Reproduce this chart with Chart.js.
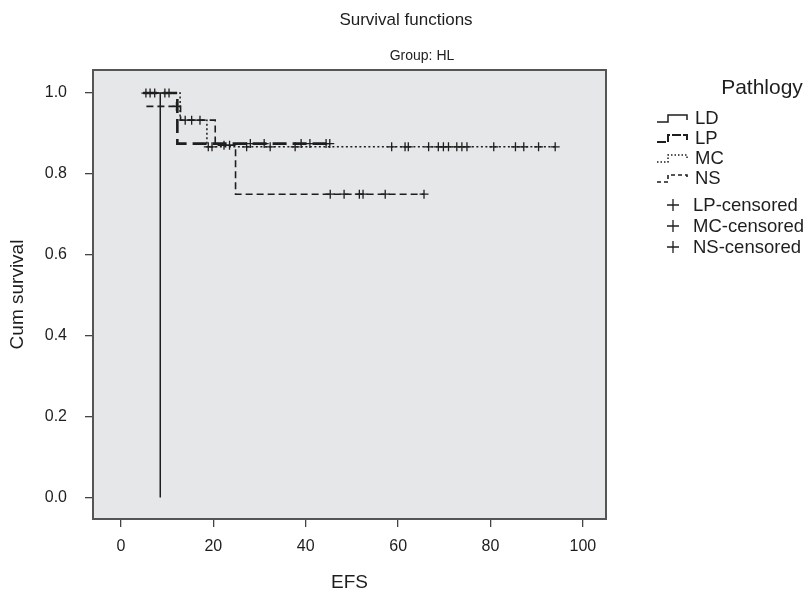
<!DOCTYPE html>
<html>
<head>
<meta charset="utf-8">
<script src="https://cdn.jsdelivr.net/npm/chart.js@4.4.1/dist/chart.umd.min.js"></script>
<style>
  html,body{margin:0;padding:0;background:#fff}
  #wrap{width:812px;height:592px;position:relative}
</style>
</head>
<body>
<div id="wrap"><canvas id="km"></canvas></div>
<script>
// tick labels
const xTicks = [0, 20, 40, 60, 80, 100];
const yTicks = [0.0, 0.2, 0.4, 0.6, 0.8, 1.0];

// Kaplan-Meier steps per pathology (time, survival after that time)
const ldTime = [4.8, 8.5];
const ldSurv = [1.0, 0.0];
const lpTime = [4.8, 12.2, 45.6];
const lpSurv = [1.0, 0.875, 0.875];
const mcTime = [4.8, 12.8, 18.6, 94.0];
const mcSurv = [1.0, 0.933, 0.867, 0.867];
const nsTime = [5.5, 12.9, 20.4, 24.8, 65.6];
const nsSurv = [0.967, 0.933, 0.871, 0.75, 0.75];

// censored times
const lpCens = [5.4, 6.3, 7.3, 9.5, 10.4, 28.0, 31.0, 39.0, 40.9, 44.4, 45.2];
const mcCens = [18.9, 19.7, 27.2, 32.3, 37.7, 58.6, 61.5, 62.2, 66.6, 68.7, 69.8, 70.9, 72.7, 73.8, 74.9, 80.7, 85.4, 87.2, 90.4, 94.0];
const nsCens = [12.0, 13.9, 15.3, 17.1, 22.3, 23.5, 45.3, 48.3, 51.6, 52.4, 57.2, 65.6];

const FONT = '"Liberation Sans", Arial, sans-serif';
const INK = '#1e1e1e';

function steps(t, s){ return t.map((v,i)=>({x:v, y:s[i]})); }
function survAt(t, s, x){
  let v = s[0];
  for(let i=0;i<t.length;i++){ if(t[i] <= x) v = s[i]; }
  return v;
}
function cens(c, t, s){ return c.map(x=>({x:x, y:survAt(t, s, x)})); }

function curve(label, t, s, dash, width, legDash){
  return { type:'line', label:label, data:steps(t,s), stepped:true, borderColor:INK,
    borderWidth:width, borderDash:dash, legendDash:legDash, pointRadius:0, fill:false, tension:0 };
}
function marks(label, c, t, s){
  return { type:'scatter', label:label, data:cens(c,t,s), pointStyle:'cross', pointRadius:4.5,
    borderColor:INK, borderWidth:1.3, showLine:false };
}

const datasets = [
  curve('LD', ldTime, ldSurv, [], 1.5, []),
  curve('LP', lpTime, lpSurv, [14,6], 2.6, [9,2]),
  curve('MC', mcTime, mcSurv, [2,2.5], 1.5, [1.5,2]),
  curve('NS', nsTime, nsSurv, [7,4], 1.6, [4,3]),
  marks('LP-censored', lpCens, lpTime, lpSurv),
  marks('MC-censored', mcCens, mcTime, mcSurv),
  marks('NS-censored', nsCens, nsTime, nsSurv)
];

// grey panel + frame, titles and the step-symbol legend
const decor = {
  id:'decor',
  beforeDraw(chart){
    const a = chart.chartArea, ctx = chart.ctx;
    ctx.save();
    ctx.fillStyle = '#e6e7e9';
    ctx.fillRect(a.left, a.top, a.right-a.left, a.bottom-a.top);
    ctx.restore();
  },
  afterDraw(chart){
    const a = chart.chartArea, ctx = chart.ctx;
    ctx.save();
    ctx.strokeStyle = '#555';
    ctx.lineWidth = 2;
    ctx.strokeRect(a.left, a.top, a.right-a.left, a.bottom-a.top);

    ctx.fillStyle = INK;
    ctx.textBaseline = 'middle';
    ctx.textAlign = 'center';
    ctx.font = '17px ' + FONT;
    ctx.fillText('Survival functions', 406, 20);
    ctx.font = '14px ' + FONT;
    ctx.fillText('Group: HL', 422, 56);

    ctx.font = '21px ' + FONT;
    ctx.fillText('Pathlogy', 762, 88);

    ctx.textAlign = 'left';
    ctx.font = '18.5px ' + FONT;
    const rowY = [118, 138, 158, 178, 205, 226, 247];
    chart.data.datasets.forEach((ds, i)=>{
      const y = rowY[i];
      if(ds.type === 'line'){
        ctx.strokeStyle = INK;
        ctx.lineWidth = Math.min(ds.borderWidth, 2);
        ctx.setLineDash(ds.legendDash);
        ctx.beginPath();
        ctx.moveTo(657, y+4); ctx.lineTo(668, y+4); ctx.lineTo(668, y-3);
        ctx.lineTo(687, y-3); ctx.lineTo(687, y+2);
        ctx.stroke();
        ctx.setLineDash([]);
        ctx.fillText(ds.label, 695, y+1);
      } else {
        ctx.strokeStyle = INK;
        ctx.lineWidth = 1.3;
        ctx.beginPath();
        ctx.moveTo(667, y); ctx.lineTo(679, y);
        ctx.moveTo(673, y-6); ctx.lineTo(673, y+6);
        ctx.stroke();
        ctx.fillText(ds.label, 693, y+1);
      }
    });
    ctx.restore();
  }
};

new Chart(document.getElementById('km'), {
  type:'scatter',
  data:{ datasets: datasets },
  plugins:[decor],
  options:{
    responsive:true, maintainAspectRatio:false, animation:false,
    layout:{ padding:{ top:70, right:206, left:0, bottom:0 } },
    plugins:{ legend:{ display:false }, tooltip:{ enabled:false }, title:{ display:false } },
    scales:{
      x:{
        type:'linear', min:-6.06, max:105.0,
        afterBuildTicks(s){ s.ticks = xTicks.map(v=>({value:v})); },
        afterFit(s){ s.height = 73; },
        grid:{ drawOnChartArea:false, drawTicks:true, tickLength:8, tickColor:'#444', lineWidth:1.3 },
        border:{ display:false },
        ticks:{ color:INK, font:{ family:FONT, size:16 }, padding:10, callback:v=>String(v) },
        title:{ display:true, text:'EFS', color:INK, font:{ family:FONT, size:19, lineHeight:1 }, padding:{ top:0, bottom:0 } }
      },
      y:{
        type:'linear', min:-0.053, max:1.057,
        afterBuildTicks(s){ s.ticks = yTicks.map(v=>({value:v})); },
        afterFit(s){ s.width = 93; },
        grid:{ drawOnChartArea:false, drawTicks:true, tickLength:8, tickColor:'#444', lineWidth:1.3 },
        border:{ display:false },
        ticks:{ color:INK, font:{ family:FONT, size:16 }, padding:18, callback:v=>Number(v).toFixed(1) },
        title:{ display:true, text:'Cum survival', color:INK, font:{ family:FONT, size:19, lineHeight:1 }, padding:{ top:8, bottom:0 } }
      }
    }
  }
});
</script>
</body>
</html>
